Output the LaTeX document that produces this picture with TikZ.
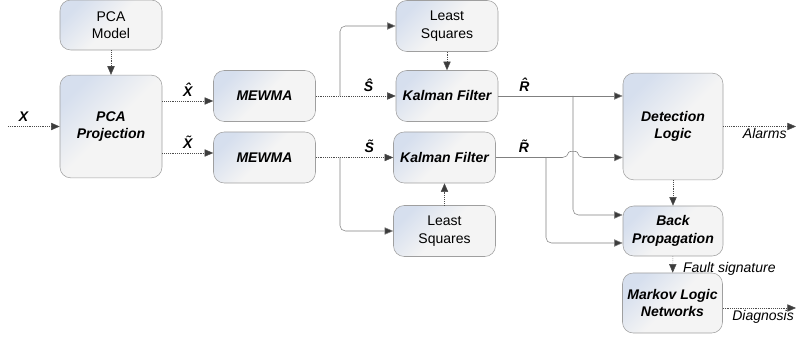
\documentclass[tikz,border=0pt]{standalone}
\usepackage{fontspec}
\setmainfont{Liberation Sans}
\usetikzlibrary{arrows.meta}
\definecolor{boxblue}{HTML}{D6DFEE}
\definecolor{boxgray}{HTML}{F4F4F4}
\definecolor{tipgray}{HTML}{3C3C3C}
\begin{document}
\begin{tikzpicture}[x=0.75pt,y=-0.75pt,
	font=\fontsize{10.5}{13}\selectfont,
	block/.style={draw=gray!75,rounded corners=8pt,top color=boxblue,bottom color=boxgray,middle color=boxgray,shading angle=45,align=center,inner sep=0pt,minimum width=76.5pt,minimum height=38.25pt},
	tag/.style={font=\fontsize{10.5}{13}\selectfont\bfseries\itshape},
	note/.style={font=\fontsize{10.5}{13}\selectfont\itshape,inner sep=1.5pt},
	flow/.style={densely dotted,draw=black!70,-{Triangle[length=6.5pt,width=5.5pt,fill=tipgray]}},
	link/.style={draw=gray,rounded corners=4pt,-{Triangle[length=6.5pt,width=5.5pt,fill=tipgray]}}]
	\useasboundingbox (0,0) rectangle (797,341);
	\node[block,minimum height=37.5pt] (pcamodel) at (111,25) {PCA\\Model};
	\node[block,tag,minimum height=77pt] (pcaproj) at (111,126.5) {PCA\\Projection};
	\node[block,tag] (mewmahat) at (264.5,96) {MEWMA};
	\node[block,tag] (mewmatil) at (264.5,157.5) {MEWMA};
	\node[block] (lsqhat) at (447,26) {Least\\Squares};
	\node[block,tag] (kalhat) at (447,96) {Kalman Filter};
	\node[block,tag] (kaltil) at (444.5,157.5) {Kalman Filter};
	\node[block] (lsqtil) at (444.5,231) {Least\\Squares};
	\node[block,tag,minimum width=75pt,minimum height=80pt] (detect) at (673,126.5) {Detection\\Logic};
	\node[block,tag,minimum width=75pt,minimum height=37.5pt] (backprop) at (673,231) {Back\\Propagation};
	\node[block,tag,minimum width=75pt,minimum height=45pt] (markov) at (672.5,303) {Markov Logic\\Networks};
	\coordinate (xin) at (8,126.5);
	\coordinate (shat) at (340,96);
	\coordinate (stil) at (340,157.5);
	\coordinate (rhat) at (573,96);
	\coordinate (rtil) at (546,157.5);
	\coordinate (hopa) at (568,157.5);
	\coordinate (hopb) at (578,157.5);
	\coordinate (alarms) at (796,126.5);
	\coordinate (diag) at (796,308);
	\draw[flow] (xin) -- (pcaproj.west) node[pos=0.3,above,tag]{X};
	\draw[flow] (pcamodel) -- (pcaproj);
	\draw[flow] (pcaproj.east |- 0,101) -- (mewmahat.west |- 0,101) node[midway,above,tag]{\^{X}};
	\draw[flow] (pcaproj.east |- 0,153) -- (mewmatil.west |- 0,153) node[midway,above,tag]{\~{X}};
	\draw[flow] (mewmahat) -- (kalhat) node[pos=0.66,above,tag]{\^{S}};
	\draw[flow] (mewmatil) -- (kaltil) node[pos=0.69,above,tag]{\~{S}};
	\draw[link] (shat) |- (lsqhat);
	\draw[link] (stil) |- (lsqtil);
	\draw[flow] (lsqhat) -- (kalhat);
	\draw[flow] (lsqtil) -- (kaltil);
	\draw[link] (kalhat) -- (kalhat.east -| detect.west) node[pos=0.21,above,tag]{\^{R}};
	\draw[link] (rhat) |- ([yshift=12pt]backprop.west);
	\draw[link] (kaltil) -- node[pos=0.39,above,tag]{\~{R}} (hopa) .. controls (569,151) and (577,151) .. (hopb) -- (kaltil.east -| detect.west);
	\draw[link] (rtil) |- ([yshift=-9pt]backprop.west);
	\draw[flow] (detect) -- (backprop);
	\draw[flow] (backprop) -- (markov) node[pos=0.75,right,note,xshift=6pt]{Fault signature};
	\draw[flow] (detect) -- (alarms) node[pos=0.57,below,note]{Alarms};
	\draw[flow] (markov.east |- diag) -- (diag) node[pos=0.55,below,note]{Diagnosis};
\end{tikzpicture}
\end{document}
